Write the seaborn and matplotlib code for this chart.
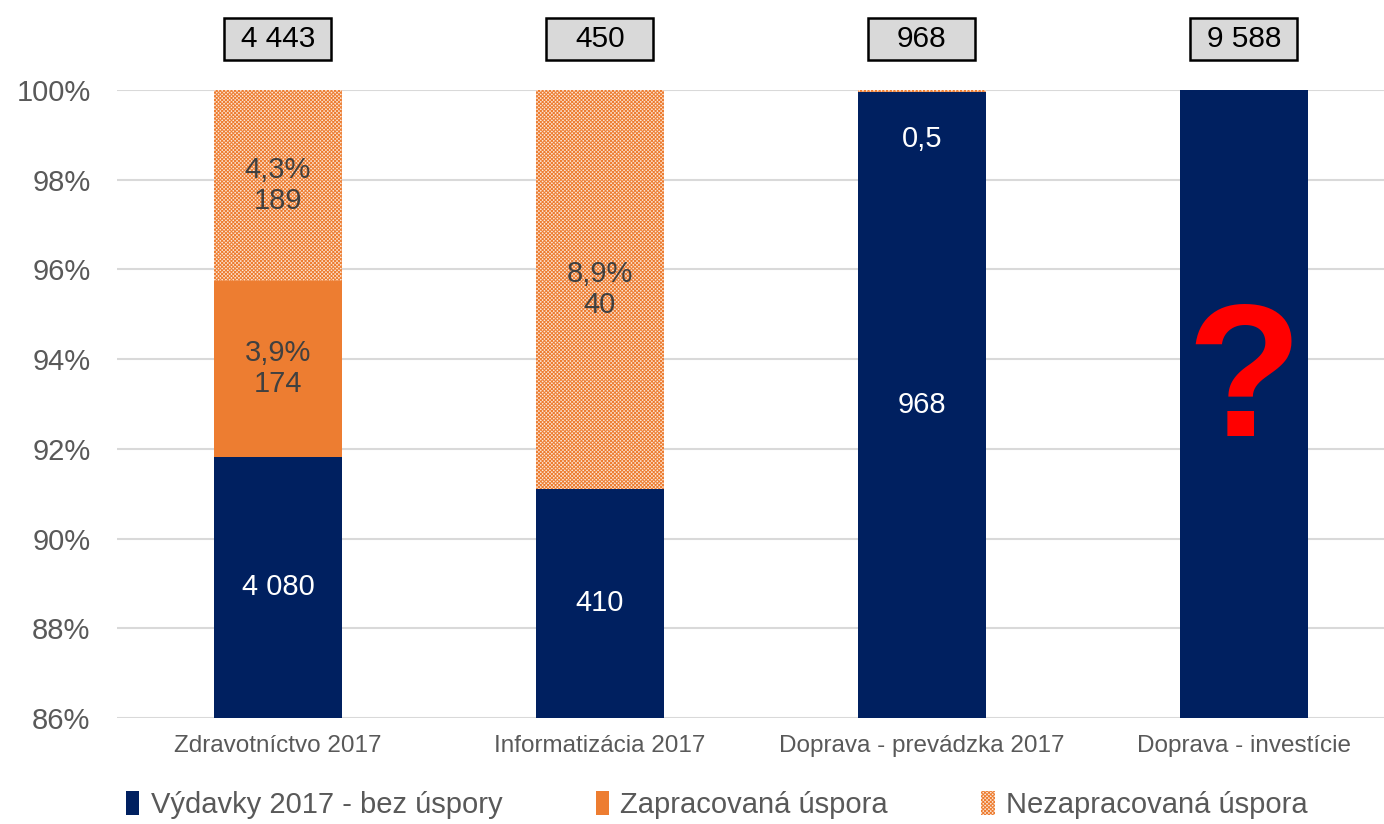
import numpy as np
import pandas as pd
import matplotlib
matplotlib.use('Agg')
import matplotlib.pyplot as plt
import seaborn as sns
from matplotlib.patches import Rectangle, Patch
from matplotlib import transforms

# Data (mil. EUR)
categories = ['Zdravotníctvo 2017', 'Informatizácia 2017',
              'Doprava - prevádzka 2017', 'Doprava - investície']
vydavky = [4080, 410, 967.5, 9588]        # Výdavky 2017 - bez úspory
zapracovana = [174, 0, 0, 0]              # Zapracovaná úspora
nezapracovana = [189, 40, 0.5, 0]         # Nezapracovaná úspora
total_labels = ['4 443', '450', '968', '9 588']
base_labels = ['4 080', '410', '968', '']
zap_labels = ['3,9%\n174', '', '', '']
nezap_labels = ['4,3%\n189', '8,9%\n40', '', '']

NAVY = '#002060'
ORANGE = '#ED7D31'
HATCH_BG = '#FCE6D6'
HATCH = 'xxxxxxxxx'
GRAY = '#595959'

df = pd.DataFrame({'kategoria': categories, 'vydavky': vydavky,
                   'zapracovana': zapracovana, 'nezapracovana': nezapracovana})
df['total'] = df['vydavky'] + df['zapracovana'] + df['nezapracovana']
df['p_vyd'] = df['vydavky'] / df['total'] * 100
df['p_zap'] = (df['vydavky'] + df['zapracovana']) / df['total'] * 100
df['p_all'] = 100.0

sns.set_theme(style='white')
plt.rcParams['font.family'] = ['Liberation Sans', 'DejaVu Sans']
plt.rcParams['hatch.linewidth'] = 0.7

fig = plt.figure(figsize=(13.84, 8.24), dpi=100)
ax = fig.add_axes([0.0845, 0.1286, 0.9155, 0.7622])

ymin, ymax = 86, 100

# stacked bars drawn back to front (cumulative heights)
sns.barplot(data=df, x='kategoria', y='p_all', color=HATCH_BG, saturation=1,
            width=0.4, errorbar=None, ax=ax, hatch=HATCH,
            edgecolor=ORANGE, linewidth=0, zorder=2)
sns.barplot(data=df, x='kategoria', y='p_zap', color=ORANGE, saturation=1,
            width=0.4, errorbar=None, ax=ax, linewidth=0, zorder=3)
sns.barplot(data=df, x='kategoria', y='p_vyd', color=NAVY, saturation=1,
            width=0.4, errorbar=None, ax=ax, linewidth=0, zorder=4)

ax.set_ylim(ymin, ymax)
ax.set_xlim(-0.5, 3.435)
ax.set_yticks(np.arange(86, 101, 2))
ax.set_yticklabels([f'{v}%' for v in range(86, 101, 2)])
ax.yaxis.grid(True, color='#D9D9D9', linewidth=1.5, zorder=0)
ax.set_axisbelow(True)
for s in ax.spines.values():
    s.set_visible(False)
ax.tick_params(axis='y', length=0, pad=19, labelsize=21, labelcolor=GRAY)
ax.tick_params(axis='x', length=0, pad=12, labelsize=17.5, labelcolor=GRAY)
ax.set_xlabel('')
ax.set_ylabel('')

# segment labels in the middle of the visible part
for i, row in df.iterrows():
    mid_vyd = (ymin + min(row['p_vyd'], ymax)) / 2
    ax.text(i, mid_vyd, base_labels[i], ha='center', va='center',
            color='white', fontsize=21, zorder=6)
    if zap_labels[i]:
        ax.text(i, (row['p_vyd'] + row['p_zap']) / 2, zap_labels[i],
                ha='center', va='center', color='#404040', fontsize=21,
                linespacing=1.15, zorder=6)
    if nezap_labels[i]:
        ax.text(i, (row['p_zap'] + 100) / 2, nezap_labels[i],
                ha='center', va='center', color='#404040', fontsize=21,
                linespacing=1.15, zorder=6)

# tiny unrealised saving in transport operations
ax.text(2, 98.9, '0,5', ha='center', va='center', color='white',
        fontsize=21, zorder=6)
ax.text(3, 93.38, '?', ha='center', va='center', color='#FF0000',
        fontsize=136, fontweight='bold', zorder=6)

# totals in grey boxes above the bars
trans = transforms.blended_transform_factory(ax.transData, fig.transFigure)
box_w = 0.332
for i, lab in enumerate(total_labels):
    fig.add_artist(Rectangle((i - box_w / 2, 0.927), box_w, 0.051,
                             transform=trans, facecolor='#D9D9D9',
                             edgecolor='black', linewidth=1.8))
    fig.text(i, 0.9525, lab, transform=trans, ha='center', va='center',
             fontsize=21.5, color='black')

handles = [Patch(facecolor=NAVY, edgecolor=NAVY, linewidth=0),
           Patch(facecolor=ORANGE, edgecolor=ORANGE, linewidth=0),
           Patch(facecolor=HATCH_BG, edgecolor=ORANGE, hatch=HATCH,
                 linewidth=0)]
labels = ['Výdavky 2017 - bez úspory', 'Zapracovaná úspora', 'Nezapracovaná úspora']
leg = fig.legend(handles, labels, loc='center', bbox_to_anchor=(0.518, 0.023),
                 ncol=3, frameon=False, fontsize=21, handlelength=0.45,
                 handleheight=0.9, handletextpad=0.4, columnspacing=3.2,
                 labelcolor=GRAY)

fig.savefig('out.png', dpi=100)
